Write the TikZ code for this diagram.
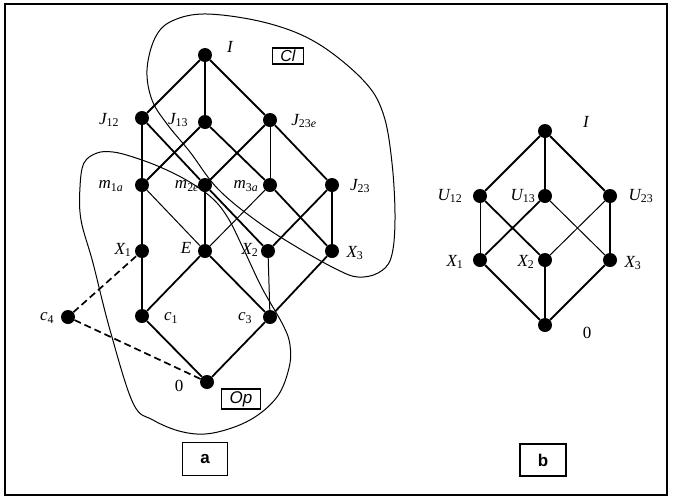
\documentclass[tikz,border=0pt]{standalone}
\usepackage{fontspec}
\setmainfont{Liberation Serif}
\newfontfamily\arialf{Liberation Sans}
\newcommand\sbs[1]{\textsubscript{\upshape #1}}
\begin{document}
\begin{tikzpicture}[x=1pt,y=-1pt,
  dot/.style={circle,fill=black,inner sep=0pt,minimum size=14pt},
  ed/.style={line width=1.8pt},
  th/.style={line width=1pt},
  dsh/.style={line width=1.7pt,dash pattern=on 7pt off 4pt},
  lab/.style={font=\fontsize{17}{17}\selectfont\itshape,inner sep=0pt},
  region/.style={line width=1pt},
  tag/.style={draw,line width=1.1pt,inner sep=0pt,font=\arialf\bfseries\fontsize{17}{17}\selectfont}]
\useasboundingbox (0,0) rectangle (673,499);
\draw[line width=1.5pt] (5,4) rectangle (667,495);

% ---- left diagram nodes
\node[dot] (I) at (205,55) {};
\node[dot] (J12) at (142,118) {};
\node[dot] (J13) at (205,122) {};
\node[dot] (J23e) at (270,120) {};
\node[dot] (m1) at (142,185) {};
\node[dot] (m2) at (205,185) {};
\node[dot] (m3) at (270,185) {};
\node[dot] (J23) at (332,185) {};
\node[dot] (X1) at (142,251) {};
\node[dot] (E) at (205,251) {};
\node[dot] (X2) at (268,251) {};
\node[dot] (X3) at (332,251) {};
\node[dot] (c1) at (142,316) {};
\node[dot] (c3) at (270,317) {};
\node[dot] (c4) at (68,317) {};
\node[dot] (z) at (207,382) {};

% labels
\node[lab] (lI) at (230,47) {I};
\node[lab] (lJ12) at (109,120) {J\sbs{12}};
\node[lab] (lJ13) at (178,120) {J\sbs{13}};
\node[lab] (lJ23e) at (304,121) {J\sbs{23\textit{e}}};
\node[lab] (lm1) at (111,186) {m\sbs{1\textit{a}}};
\node[lab] (lm2) at (187,186) {m\sbs{2\textit{e}}};
\node[lab] (lm3) at (246,186) {m\sbs{3\textit{a}}};
\node[lab] (lJ23) at (360,186) {J\sbs{23}};
\node[lab] (lX1) at (123,250) {X\sbs{1}};
\node[lab] (lE) at (186,248) {E};
\node[lab] (lX2) at (250,250) {X\sbs{2}};
\node[lab] (lX3) at (355,253) {X\sbs{3}};
\node[lab] (lc1) at (171,318) {c\sbs{1}};
\node[lab] (lc3) at (245,318) {c\sbs{3}};
\node[lab] (lc4) at (47,318) {c\sbs{4}};
\node[lab,font=\fontsize{17}{17}\selectfont] (lz) at (179,386) {0};

% edges
\draw[ed] (I) -- (J12);
\draw[ed] (I) -- (J13);
\draw[ed] (I) -- (J23e);
\draw[ed] (J12) -- (m1);
\draw[ed] (J12) -- (m2);
\draw[ed] (J13) -- (m1);
\draw[ed] (J13) -- (m3);
\draw[ed] (J23e) -- (m2);
\draw[th] (J23e) -- (m3);
\draw[ed] (J23e) -- (J23);
\draw[ed] (m1) -- (X1);
\draw[th] (m1) -- (E);
\draw[ed] (m2) -- (E);
\draw[ed] (m2) -- (X2);
\draw[th] (m3) -- (E);
\draw[ed] (m3) -- (X3);
\draw[ed] (J23) -- (X2);
\draw[ed] (J23) -- (X3);
\draw[ed] (X1) -- (c1);
\draw[ed] (E) -- (c1);
\draw[ed] (E) -- (c3);
\draw[th] (X2) -- (c3);
\draw[ed] (X3) -- (c3);
\draw[ed] (c1) -- (z);
\draw[ed] (c3) -- (z);
\draw[dsh] (c4) -- (X1);
\draw[dsh] (c4) -- (z);

% Cl region
\draw[region] plot[smooth cycle,tension=0.6] coordinates {
 (207,14) (267,23) (317,43) (363,80) (383,113) (392,163) (395,220)
 (391,258) (378,273) (358,277) (338,270) (300,249) (258,222) (218,189)
 (190,152) (167,124) (152,100) (147,70) (155,38) (172,21)};
% Op region
\draw[region] plot[smooth cycle,tension=0.6] coordinates {
 (97,153) (113,152) (133,157) (160,167) (188,181) (212,198) (228,218)
 (244,250) (262,288) (283,325) (290,345) (289,368) (277,397) (250,420)
 (213,433) (183,432) (153,420) (133,403) (110,330) (93,263) (81,220)
 (80,187) (84,163)};

\node[tag,font=\arialf\itshape\fontsize{16}{16}\selectfont,minimum width=31pt,minimum height=16pt] (Cl) at (288,56) {Cl};
\node[tag,font=\arialf\itshape\fontsize{17}{17}\selectfont,minimum width=39pt,minimum height=20pt] (Op) at (241,399) {Op};
\node[tag,minimum width=45pt,minimum height=33pt] (ta) at (205,459) {a};
\node[tag,minimum width=46pt,minimum height=32pt] (tb) at (543,460) {b};

% ---- right diagram
\node[dot] (bI) at (545,131) {};
\node[dot] (U12) at (480,196) {};
\node[dot] (U13) at (545,196) {};
\node[dot] (U23) at (610,196) {};
\node[dot] (bX1) at (480,260) {};
\node[dot] (bX2) at (545,260) {};
\node[dot] (bX3) at (610,260) {};
\node[dot] (b0) at (545,325) {};
\node[lab] (lbI) at (586,122) {I};
\node[lab] (lU12) at (450,196) {U\sbs{12}};
\node[lab] (lU13) at (523,196) {U\sbs{13}};
\node[lab] (lU23) at (641,196) {U\sbs{23}};
\node[lab] (lbX1) at (455,262) {X\sbs{1}};
\node[lab] (lbX2) at (526,262) {X\sbs{2}};
\node[lab] (lbX3) at (633,263) {X\sbs{3}};
\node[lab,font=\fontsize{17}{17}\selectfont] (lb0) at (587,333) {0};
\draw[ed] (bI) -- (U12);
\draw[ed] (bI) -- (U13);
\draw[ed] (bI) -- (U23);
\draw[th] (U12) -- (bX1);
\draw[ed] (U12) -- (bX2);
\draw[ed] (U13) -- (bX1);
\draw[th] (U13) -- (bX3);
\draw[th] (U23) -- (bX2);
\draw[ed] (U23) -- (bX3);
\draw[ed] (bX1) -- (b0);
\draw[ed] (bX2) -- (b0);
\draw[ed] (bX3) -- (b0);
\end{tikzpicture}
\end{document}
